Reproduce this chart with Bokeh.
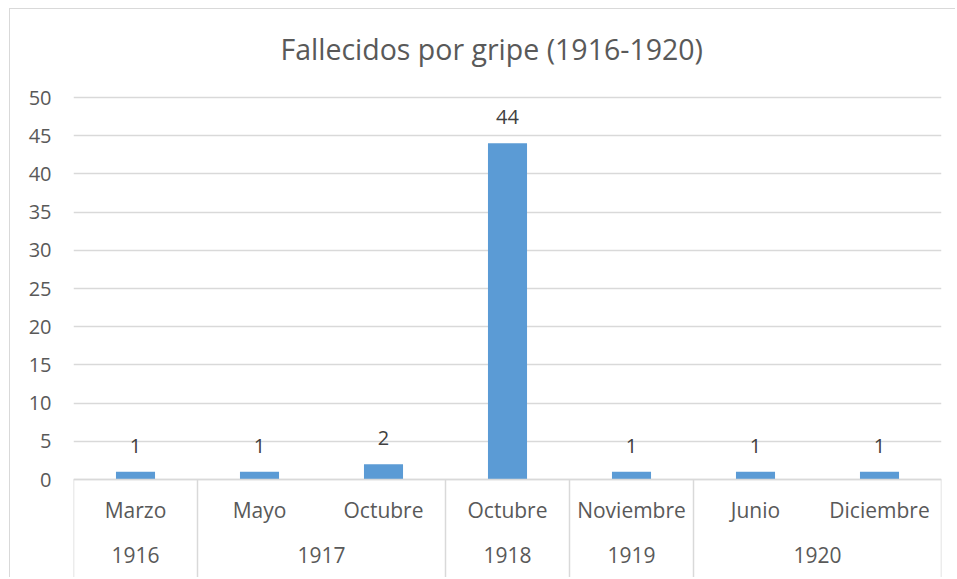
from bokeh.plotting import figure
from bokeh.models import (FactorRange, Range1d, ColumnDataSource, FixedTicker,
                          CategoricalAxis)
from bokeh.core.properties import value
from bokeh.embed import file_html
from bokeh.resources import INLINE

# ---- data ----
title_text = "Fallecidos por gripe (1916-1920)"
years = ["1916", "1917", "1917", "1918", "1919", "1920", "1920"]
months = ["Marzo", "Mayo", "Octubre", "Octubre", "Noviembre", "Junio", "Diciembre"]
deaths = [1, 1, 2, 44, 1, 1, 1]
y_ticks = [0, 5, 10, 15, 20, 25, 30, 35, 40, 45, 50]

# ---- styling / layout constants ----
FONT = "Open Sans"
TXT = "#595959"
GRID = "#d9d9d9"
BAR = "#5b9bd5"

W, H = 946, 569
FRAME_TOP_PX, FRAME_BOTTOM_PX = 77, 569     # relative to canvas
PX_PER_UNIT = 7.64
y_max_px_gap = 11                           # px between frame top and top tick
y_end = y_ticks[-1] + y_max_px_gap / PX_PER_UNIT
y_start = y_end - (FRAME_BOTTOM_PX - FRAME_TOP_PX) / PX_PER_UNIT

factors = list(zip(years, months))
x_range = FactorRange(*factors, factor_padding=0, group_padding=0,
                      subgroup_padding=0, range_padding=0)

p = figure(x_range=x_range, y_range=Range1d(y_start, y_end),
           width=W, height=H, output_backend="svg", toolbar_location=None,
           title=title_text, min_border_left=63, min_border_right=15,
           min_border_top=FRAME_TOP_PX, min_border_bottom=0,
           styles={"margin-left": "9px", "margin-top": "8px",
                   "border-left": "1px solid #d9d9d9",
                   "border-top": "1px solid #d9d9d9"})
p.outline_line_color = None
p.background_fill_color = "white"
p.border_fill_color = "white"

p.title.text_font = FONT
p.title.text_font_size = "28.5px"
p.title.text_font_style = "normal"
p.title.text_color = TXT
p.title.align = "left"
p.title.offset = 207
p.title.standoff = 37

src = ColumnDataSource(dict(x=factors, deaths=deaths,
                            label=[str(d) for d in deaths]))

p.vbar(x="x", top="deaths", width=0.315, source=src,
       fill_color=BAR, line_color=None)
p.text(x="x", y="deaths", text="label", source=src, text_align="center",
       text_baseline="alphabetic", y_offset=-26,
       text_font=value(FONT), text_font_size="20px", text_color="#404040")

# separators between year groups (category boundaries in synthetic coords)
bounds = [0]
for i in range(1, len(years)):
    if years[i] != years[i - 1]:
        bounds.append(i)
bounds.append(len(years))
p.segment(x0=bounds, x1=bounds, y0=[0] * len(bounds), y1=[y_start] * len(bounds),
          line_color=GRID, line_width=1.5)

# grid
p.xgrid.grid_line_color = None
p.ygrid.ticker = FixedTicker(ticks=y_ticks)
p.ygrid.grid_line_color = GRID
p.ygrid.grid_line_width = 1.5

# y axis
ya = p.yaxis[0]
ya.ticker = FixedTicker(ticks=y_ticks)
ya.axis_line_color = None
ya.major_tick_line_color = None
ya.minor_tick_line_color = None
ya.major_tick_out = 0
ya.major_label_standoff = 22
ya.major_label_text_font = FONT
ya.major_label_text_font_size = "20px"
ya.major_label_text_color = TXT

# x axis (months) at y = 0
xa = p.xaxis[0]
xa.fixed_location = 0
xa.axis_line_color = GRID
xa.axis_line_width = 1.5
xa.major_tick_line_color = None
xa.major_tick_out = 0
xa.major_label_standoff = 16
xa.major_label_text_font = FONT
xa.major_label_text_font_size = "21px"
xa.major_label_text_color = TXT
xa.group_text_color = None
xa.separator_line_color = None

# second axis (years)
year_axis_loc = -67 / PX_PER_UNIT
xb = CategoricalAxis(fixed_location=year_axis_loc)
xb.axis_line_color = None
xb.major_tick_line_color = None
xb.major_tick_out = 0
xb.major_label_standoff = 0
xb.major_label_text_color = None
xb.major_label_text_font_size = "21px"
xb.group_text_font = FONT
xb.group_text_font_size = "21px"
xb.group_text_color = TXT
xb.group_text_font_style = "normal"
xb.separator_line_color = None
p.add_layout(xb, "below")

open("out.html", "w").write(file_html(p, INLINE))
